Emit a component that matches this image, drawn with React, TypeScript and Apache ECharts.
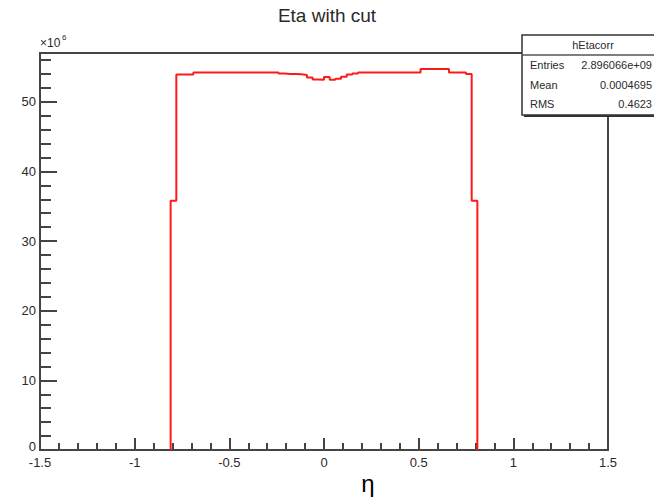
import React, { useEffect, useRef } from "react";
import * as echarts from "echarts";

// Histogram of eta after the cut: 54 filled bins of width 0.03 starting at -0.81 (units of 10^6 entries)
const binFirstLowEdge = -0.81;
const binWidth = 0.03;
const binValues: number[] = [
  35.8,
  53.9, 53.9, 53.9,
  54.2, 54.2, 54.2, 54.2, 54.2, 54.2, 54.2, 54.2, 54.2, 54.2, 54.2, 54.2, 54.2, 54.2, 54.2,
  54.05, 54.0, 54.0, 53.95, 53.85, 53.5, 53.2, 53.15,
  53.55,
  53.15, 53.3, 53.6, 53.9, 54.05,
  54.2, 54.2, 54.2, 54.2, 54.2, 54.2, 54.2, 54.2, 54.2, 54.2, 54.2,
  54.7, 54.7, 54.7, 54.7, 54.7,
  54.2, 54.2, 54.2,
  54.0,
  35.8,
];

// Axis ranges
const xRange = [-1.5, 1.5];
const yRange = [0, 57];

// Statistics box contents
const statNames = ["Entries", "Mean", "RMS"];
const statValues = ["2.896066e+09", "0.0004695", "0.4623"];

function histogramOutline(): number[][] {
  const pts: number[][] = [];
  const n = binValues.length;
  pts.push([binFirstLowEdge, 0]);
  for (let i = 0; i < n; i++) {
    const lo = +(binFirstLowEdge + i * binWidth).toFixed(4);
    const hi = +(binFirstLowEdge + (i + 1) * binWidth).toFixed(4);
    pts.push([lo, binValues[i]]);
    pts.push([hi, binValues[i]]);
  }
  pts.push([+(binFirstLowEdge + n * binWidth).toFixed(4), 0]);
  return pts;
}

const FONT = "'Liberation Sans', Arial, sans-serif";
const FRAME = "#444";
const TXT = "#2a2a2a";

export default function App() {
  const ref = useRef<HTMLDivElement>(null);

  useEffect(() => {
    if (!ref.current) return;
    const chart = echarts.init(ref.current, null, { renderer: "svg" });

    const statRows: any[] = [];
    statNames.forEach((name, i) => {
      const y = 65 + i * 19.6;
      statRows.push({
        type: "text",
        x: 530,
        y,
        style: { text: name, font: `11px ${FONT}`, fill: TXT, textAlign: "left", textVerticalAlign: "middle" },
        z: 103,
      });
      statRows.push({
        type: "text",
        x: 652,
        y,
        style: { text: statValues[i], font: `11px ${FONT}`, fill: TXT, textAlign: "right", textVerticalAlign: "middle" },
        z: 103,
      });
    });

    chart.setOption({
      animation: false,
      backgroundColor: "#fff",
      title: {
        text: "Eta with cut",
        left: "center",
        top: 1,
        textStyle: { fontFamily: FONT, fontSize: 19, fontWeight: "normal", color: TXT },
      },
      grid: {
        left: 40,
        right: 46,
        top: 53,
        bottom: 50,
        show: true,
        borderColor: FRAME,
        borderWidth: 2,
        backgroundColor: "transparent",
      },
      xAxis: {
        type: "value",
        min: xRange[0],
        max: xRange[1],
        interval: 0.5,
        axisLine: { show: true, onZero: false, lineStyle: { color: FRAME, width: 2 } },
        axisTick: { show: true, inside: true, length: 12, lineStyle: { color: FRAME, width: 2 } },
        minorTick: { show: true, splitNumber: 5, length: 7, lineStyle: { color: FRAME, width: 2 } },
        axisLabel: { fontFamily: FONT, fontSize: 13, color: TXT, margin: 6 },
        splitLine: { show: false },
      },
      yAxis: [
        {
          type: "value",
          min: yRange[0],
          max: yRange[1],
          interval: 10,
          axisLine: { show: true, onZero: false, lineStyle: { color: FRAME, width: 2 } },
          axisTick: { show: true, inside: true, length: 17, lineStyle: { color: FRAME, width: 2 } },
          axisLabel: {
            fontFamily: FONT,
            fontSize: 13,
            color: TXT,
            margin: 4,
            showMaxLabel: false,
            // the zero label sits a little above the axis line
            formatter: (v: number) => (v === 0 ? "{zero|0}" : String(v)),
            rich: {
              zero: { fontFamily: FONT, fontSize: 13, color: TXT, padding: [0, 0, 8, 0] },
            },
          },
          splitLine: { show: false },
        },
        {
          type: "value",
          position: "left",
          min: yRange[0],
          max: yRange[1],
          interval: 2,
          axisLine: { show: false, onZero: false },
          axisTick: { show: true, inside: true, length: 11, lineStyle: { color: FRAME, width: 2 } },
          axisLabel: { show: false },
          splitLine: { show: false },
        },
      ],
      series: [
        {
          type: "line",
          xAxisIndex: 0,
          yAxisIndex: 0,
          data: histogramOutline(),
          showSymbol: false,
          symbol: "none",
          lineStyle: { color: "#ff1a1a", width: 2 },
          z: 5,
        },
      ],
      graphic: [
        // axis exponent
        {
          type: "text",
          x: 40,
          y: 43,
          style: { text: "×10", font: `12px ${FONT}`, fill: TXT, textAlign: "left", textVerticalAlign: "middle" },
        },
        {
          type: "text",
          x: 62,
          y: 37,
          style: { text: "6", font: `8px ${FONT}`, fill: TXT, textAlign: "left", textVerticalAlign: "middle" },
        },
        // x-axis title
        {
          type: "text",
          x: 368,
          y: 483,
          style: { text: "η", font: `24px ${FONT}`, fill: "#000", textAlign: "center", textVerticalAlign: "middle" },
        },
        // statistics box: shadow, frame, title separator
        {
          type: "rect",
          shape: { x: 524, y: 37, width: 142, height: 80 },
          style: { fill: "#333" },
          z: 100,
        },
        {
          type: "rect",
          shape: { x: 522, y: 35, width: 142, height: 80 },
          style: { fill: "#fff", stroke: "#333", lineWidth: 1.5 },
          z: 101,
        },
        {
          type: "line",
          shape: { x1: 522, y1: 55, x2: 664, y2: 55 },
          style: { stroke: "#555", lineWidth: 1.5 },
          z: 102,
        },
        {
          type: "text",
          x: 593,
          y: 45,
          style: { text: "hEtacorr", font: `11px ${FONT}`, fill: TXT, textAlign: "center", textVerticalAlign: "middle" },
          z: 103,
        },
        ...statRows,
      ],
    });

    return () => chart.dispose();
  }, []);

  return (
    <div
      ref={ref}
      style={{ position: "fixed", left: 0, top: 0, width: 654, height: 500 }}
    />
  );
}
